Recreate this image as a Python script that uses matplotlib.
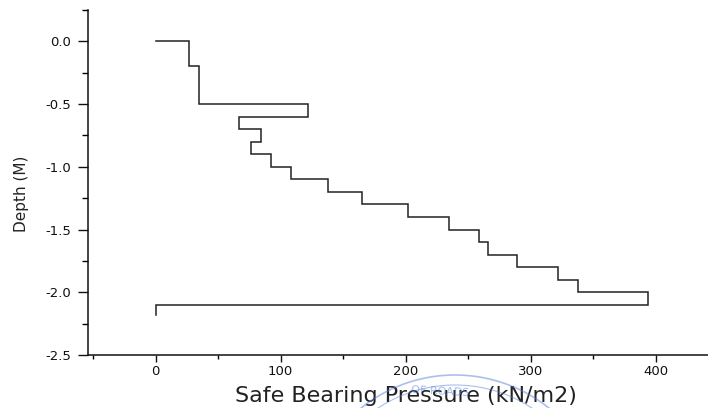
import numpy as np
import matplotlib
matplotlib.use("Agg")
import matplotlib.pyplot as plt
from matplotlib.ticker import MultipleLocator
from matplotlib.patches import Arc

# Safe bearing pressure (kN/m2) for each depth interval
pressure = [27, 35, 122, 67, 84, 76, 92, 108, 138, 165, 202, 235, 259, 266,
            289, 322, 338, 394, 0]
depth_top = [0.0, -0.2, -0.5, -0.6, -0.7, -0.8, -0.9, -1.0, -1.1, -1.2, -1.3,
             -1.4, -1.5, -1.6, -1.7, -1.8, -1.9, -2.0, -2.1]
depth_bottom = [-0.2, -0.5, -0.6, -0.7, -0.8, -0.9, -1.0, -1.1, -1.2, -1.3,
                -1.4, -1.5, -1.6, -1.7, -1.8, -1.9, -2.0, -2.1, -2.18]
x_ticks = [0, 100, 200, 300, 400]
y_ticks = [0.0, -0.5, -1.0, -1.5, -2.0, -2.5]

plt.rcParams['font.family'] = ['DejaVu Sans']

fig = plt.figure(figsize=(7.08, 4.08), dpi=100)
ax = fig.add_axes([88/708, (408-355)/408, (708-88)/708, (355-10)/408])

xs = np.concatenate([[0], np.repeat(pressure, 2)])
ys = np.concatenate([[0.0], np.column_stack([depth_top, depth_bottom]).ravel()])
ax.plot(xs, ys, color='#222222', lw=1.1, solid_joinstyle='miter')

ax.set_xlim(-54, 442)
ax.set_ylim(-2.5, 0.25)
ax.set_xticks(x_ticks)
ax.set_yticks(y_ticks)
ax.set_yticklabels([f"{v:.1f}" for v in y_ticks])
ax.xaxis.set_minor_locator(MultipleLocator(50))
ax.yaxis.set_minor_locator(MultipleLocator(0.25))

for s in ['top', 'right']:
    ax.spines[s].set_visible(False)
for s in ['left', 'bottom']:
    ax.spines[s].set_linewidth(1.1)
    ax.spines[s].set_color('#111111')

ax.tick_params(axis='y', which='major', direction='out', length=7, width=1, pad=5,
               labelsize=9.5, colors='#111111')
ax.tick_params(axis='y', which='minor', direction='out', length=4, width=1)
ax.tick_params(axis='x', which='major', direction='out', length=5, width=1, pad=2,
               labelsize=9.5, colors='#111111')
ax.tick_params(axis='x', which='minor', direction='out', length=3, width=1)

ax.set_xlabel('Safe Bearing Pressure (kN/m2)', fontsize=16, color='#222222')
ax.xaxis.set_label_coords(0.512, -0.09)
ax.set_ylabel('Depth (M)', fontsize=11, color='#222222', va='center')
ax.yaxis.set_label_coords(-0.108, 0.467)

# faint blue stamp arcs (scan artefact)
for r, lw in [(150, 1.2), (140, 0.8), (105, 0.8)]:
    arc = Arc((455/708, 1 - 525/408), 2*r/708, 2*r/408, theta1=55, theta2=125,
              transform=fig.transFigure, color='#5a7fd8', lw=lw, alpha=0.5, clip_on=False)
    fig.add_artist(arc)
fig.text(440/708, 1 - 392/408, 'OF ROADS', color='#5a7fd8', alpha=0.55, fontsize=8,
         rotation=-3, ha='center', va='center')

fig.savefig('out.png', dpi=100)
